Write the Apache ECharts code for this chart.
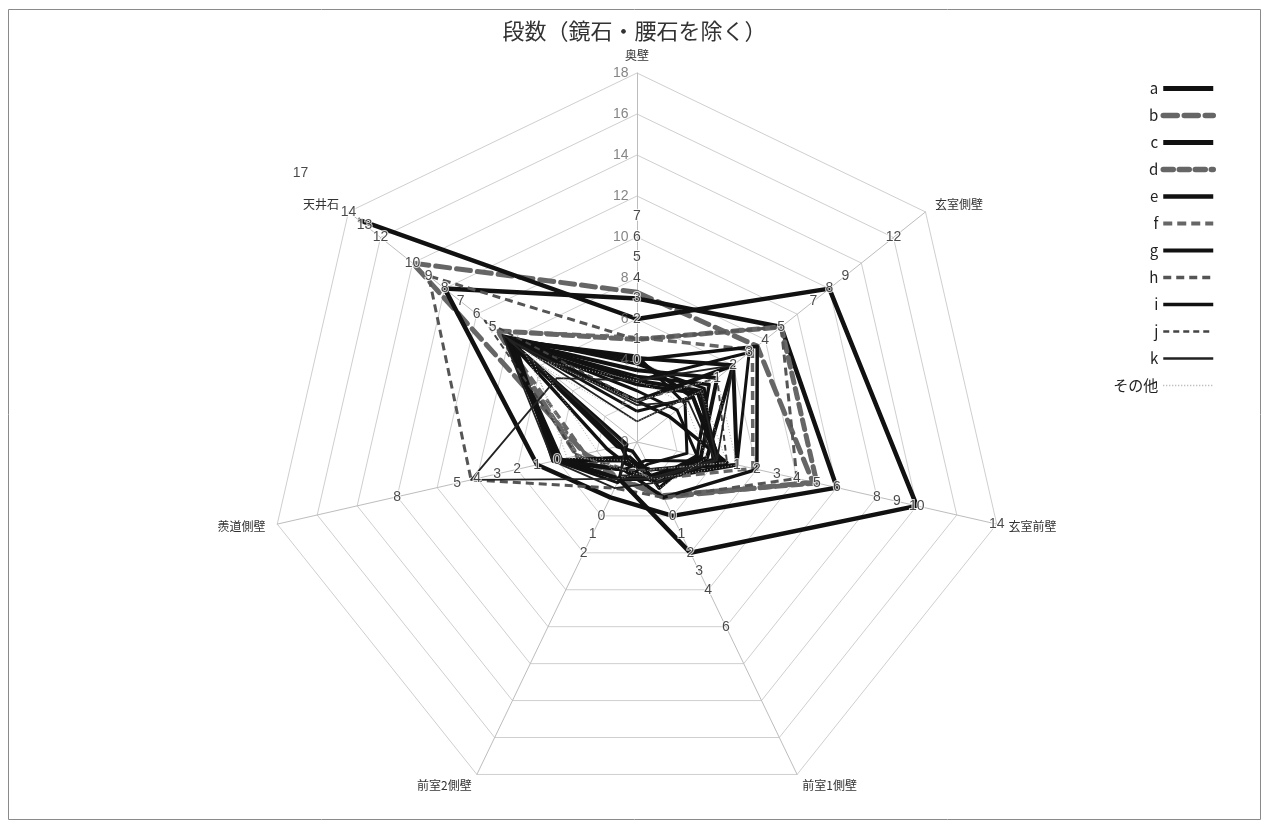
<!DOCTYPE html>
<html>
<head>
<meta charset="utf-8">
<script src="https://cdn.jsdelivr.net/npm/echarts@6/dist/echarts.min.js"></script>
<style>
  html, body { margin: 0; padding: 0; background: #fff; }
  #chart { width: 1269px; height: 828px; }
</style>
</head>
<body>
<div id="chart"></div>
<script>
// Title and the seven wall/ceiling axes (listed counter-clockwise from the top, as the radar lays them out)
const TITLE = '段数（鏡石・腰石を除く）';
const AXES = ['奥壁', '天井石', '羨道側壁', '前室2側壁', '前室1側壁', '玄室前壁', '玄室側壁'];
const AXIS_MAX = 18;

// Grid ticks written along the 奥壁 axis
const GRID_TICKS = [0, 2, 4, 6, 8, 10, 12, 14, 16, 18];

// Course-count ticks for each axis; a count n sits at radius n + COUNT_BASE
const COUNT_BASE = 4;
const TICKS_OKUKABE = [0, 1, 2, 3, 4, 5, 6, 7];
const TICKS_TENJO = [5, 6, 7, 8, 9, 10, 12, 13, 14, 17];
const TICKS_SENDO = [0, 1, 2, 3, 4, 5, 8];
const TICKS_ZENSHITSU2 = [0, 1, 2];
const TICKS_ZENSHITSU1 = [0, 1, 2, 3, 4, 6];
const TICKS_GENSHITSU_MAE = [1, 2, 3, 4, 5, 6, 8, 9, 10, 14];
const TICKS_GENSHITSU_SOKU = [1, 2, 3, 4, 5, 7, 8, 9, 12];

// Series values in grid units, one row per tomb, in AXES order (null = not recorded, line left open)
const SERIES_NAMES = ['a', 'b', 'c', 'd', 'e', 'f', 'g', 'h', 'i', 'j', 'k', 'その他'];
const DATA_A = [[6, 17.4, null, 2, 6, 14, 12]];
const DATA_B = [[7.3, 14, 2.6, 2, 3, 8.8, 7.5]];
const DATA_C = [[7, 12, 5, 3, 4, 10, 9]];
const DATA_D = [[5, 8.7, 3, 2, 2.9, 9, 9]];
const DATA_E = [[4.1, 8, 4, 1.5, 2, 5, 6], [4, 8, 0.8, 1, 2, 4, 3.5], [2, 8, 4, 2, 1.8, 3.5, 6],
  [3.5, 7.9, 4, 1, 2, 3.2, 5], [3, 8.1, 3.8, 2, 2, 4, 4]];
const DATA_F = [[5.1, 8.7, 2.6, 1.5, 2, 5.8, 7.2]];
const DATA_G = [[4, 8, 4, 1.5, 3, 6, 7.5], [3.2, 7.8, 1, 0.5, 2.5, 3, 4.5], [2, 8.2, 1.5, 1.2, 1.5, 4.5, 2],
  [2.8, 7.6, 4.2, 1.5, 2.2, 4.1, 3.8]];
const DATA_H = [[5, 13, 8.3, 2.5, 3, 8, 9]];
const DATA_I = [[3, 8, 4, 1, 1.5, 5, 7], [1.5, 8.2, 4, 1.5, 1, 4.2, 3.5], [2.5, 8, 0.5, 2, 2, 3, 2.5],
  [4.2, 8, 4.1, 2.2, 1.2, 2.5, 3], [3.8, 8.3, 4, 0.8, 2, 3.8, 4.2]];
const DATA_J = [[2, 9.5, 3, 1.5, 1.5, 4.5, 5]];
const DATA_K = [[3, 5, 8.3, 2, 2, 4, 6], [1, 8.4, 4.2, 2.5, 2.2, 4, 4], [1.8, 8, 0.6, 1.8, 1.9, 3.9, 3.2]];
const DATA_OTHER = [[2, 7, 3, 1.5, 2, 5, 5], [1, 6, 2, 2, 1.5, 4.5, 4], [3, 6.5, 3.5, 1, 2.5, 3.5, 3]];

const SERIES_DATA = [DATA_A, DATA_B, DATA_C, DATA_D, DATA_E, DATA_F, DATA_G, DATA_H, DATA_I, DATA_J, DATA_K, DATA_OTHER];
const SERIES_STYLES = [
  { color: '#111', width: 4.5, type: 'solid' },
  { color: '#666', width: 5, type: [14, 7], cap: 'round' },
  { color: '#111', width: 4.5, type: 'solid' },
  { color: '#666', width: 5, type: [10, 6], cap: 'round' },
  { color: '#111', width: 4, type: 'solid' },
  { color: '#666', width: 3.5, type: [9, 5] },
  { color: '#111', width: 3.5, type: 'solid' },
  { color: '#555', width: 3, type: [8, 5] },
  { color: '#111', width: 3, type: 'solid' },
  { color: '#444', width: 2, type: [6, 4] },
  { color: '#222', width: 1.8, type: 'solid' },
  { color: '#aaa', width: 1, type: [1, 2] }
];

const CENTER = [637, 442];
const RADIUS = 369;
const OUTER = AXIS_MAX + COUNT_BASE - 1; // room for the 17 written past the outer ring
const LATIN = '"Liberation Sans", Arial, sans-serif';
const CJK = '"Noto Sans CJK JP", "Liberation Sans", sans-serif';

const chart = echarts.init(document.getElementById('chart'), null, { renderer: 'canvas' });

// Legend swatches come from empty line series that carry each style
const legendSeries = SERIES_NAMES.map((name, i) => ({
  type: 'line', name, data: [], symbol: 'none',
  xAxisIndex: 0, yAxisIndex: 0,
  itemStyle: { color: SERIES_STYLES[i].color, opacity: 0 },
  lineStyle: Object.assign({}, SERIES_STYLES[i])
}));

// Closed rows go to the radar; a row with a missing axis is drawn as an open path
// on the matching polar system, starting just after the gap and running round.
function openPath(row) {
  const gap = row.indexOf(null);
  const pts = [];
  for (let s = 1; s < row.length; s++) {
    const k = (gap + s) % row.length;
    pts.push([row[k], k]);
  }
  return pts;
}

const radarSeries = [];
const openSeries = [];
SERIES_NAMES.forEach((name, i) => {
  const closed = SERIES_DATA[i].filter(r => r.indexOf(null) < 0);
  const open = SERIES_DATA[i].filter(r => r.indexOf(null) >= 0);
  if (closed.length) {
    radarSeries.push({
      type: 'radar', name, radarIndex: 0, symbol: 'none', silent: true,
      lineStyle: Object.assign({}, SERIES_STYLES[i]),
      itemStyle: { color: SERIES_STYLES[i].color },
      data: closed.map(v => ({ value: v }))
    });
  }
  open.forEach(row => {
    openSeries.push({
      type: 'line', name, coordinateSystem: 'polar', symbol: 'none', silent: true,
      clip: false, z: 2,
      lineStyle: Object.assign({}, SERIES_STYLES[i]),
      itemStyle: { color: SERIES_STYLES[i].color },
      data: openPath(row)
    });
  });
});

const COUNT_TICKS = [TICKS_OKUKABE, TICKS_TENJO, TICKS_SENDO, TICKS_ZENSHITSU2,
  TICKS_ZENSHITSU1, TICKS_GENSHITSU_MAE, TICKS_GENSHITSU_SOKU];
const countPoints = [];
COUNT_TICKS.forEach((ticks, axisIdx) => {
  ticks.forEach(n => countPoints.push({ value: [n + COUNT_BASE, axisIdx], name: String(n) }));
});

const labelSeries = [
  {
    type: 'scatter', coordinateSystem: 'polar', silent: true, z: 5,
    symbol: 'circle', symbolSize: 1, itemStyle: { color: 'rgba(0,0,0,0)' },
    label: { show: true, position: 'left', distance: 8, formatter: p => p.name,
      color: '#666', fontSize: 14, fontFamily: LATIN },
    data: GRID_TICKS.map(v => ({ value: [v, 0], name: String(v) }))
  },
  {
    type: 'scatter', coordinateSystem: 'polar', silent: true, z: 6,
    symbol: 'circle', symbolSize: 1, itemStyle: { color: 'rgba(0,0,0,0)' },
    label: { show: true, position: 'inside', formatter: p => p.name,
      color: '#1a1a1a', fontSize: 14, fontFamily: LATIN,
      textBorderColor: '#fff', textBorderWidth: 2 },
    data: countPoints
  }
];

chart.setOption({
  backgroundColor: '#fff',
  animation: false,
  title: {
    text: TITLE, left: 'center', top: 15,
    textStyle: { fontFamily: CJK, fontSize: 22, fontWeight: 'normal', color: '#333' }
  },
  legend: {
    orient: 'vertical', right: 48, top: 76, align: 'right',
    itemWidth: 50, itemHeight: 14, itemGap: 12,
    data: SERIES_NAMES.map((name, i) => ({
      name,
      itemStyle: { opacity: 0 },
      lineStyle: { width: SERIES_STYLES[i].width + 0.5, type: SERIES_STYLES[i].type, color: SERIES_STYLES[i].color }
    })),
    textStyle: { fontFamily: CJK, fontSize: 15, color: '#222' }
  },
  grid: { show: false, left: 0, top: 0, width: 1, height: 1 },
  xAxis: { type: 'value', show: false },
  yAxis: { type: 'value', show: false },
  radar: {
    center: CENTER, radius: RADIUS, startAngle: 90, splitNumber: 9, shape: 'polygon',
    indicator: AXES.map(name => ({ name, min: 0, max: AXIS_MAX })),
    axisName: { color: '#333', fontSize: 12, fontFamily: CJK },
    nameGap: 12,
    axisLine: { lineStyle: { color: '#bdbdbd', width: 1 } },
    splitLine: { lineStyle: { color: '#cfcfcf', width: 1 } },
    splitArea: { show: false },
    axisTick: { show: false },
    axisLabel: { show: false }
  },
  polar: { center: CENTER, radius: RADIUS * OUTER / AXIS_MAX },
  angleAxis: {
    type: 'value', min: 0, max: AXES.length, startAngle: 90, clockwise: false,
    axisLine: { show: false }, axisTick: { show: false }, axisLabel: { show: false },
    splitLine: { show: false }
  },
  radiusAxis: {
    type: 'value', min: 0, max: OUTER,
    axisLine: { show: false }, axisTick: { show: false }, axisLabel: { show: false },
    splitLine: { show: false }
  },
  graphic: [{
    type: 'rect', silent: true, z: -1,
    shape: { x: 8.5, y: 9.5, width: 1252, height: 810 },
    style: { fill: 'none', stroke: '#8a8a8a', lineWidth: 1 }
  }],
  series: legendSeries.concat(radarSeries, openSeries, labelSeries)
});
</script>
</body>
</html>
